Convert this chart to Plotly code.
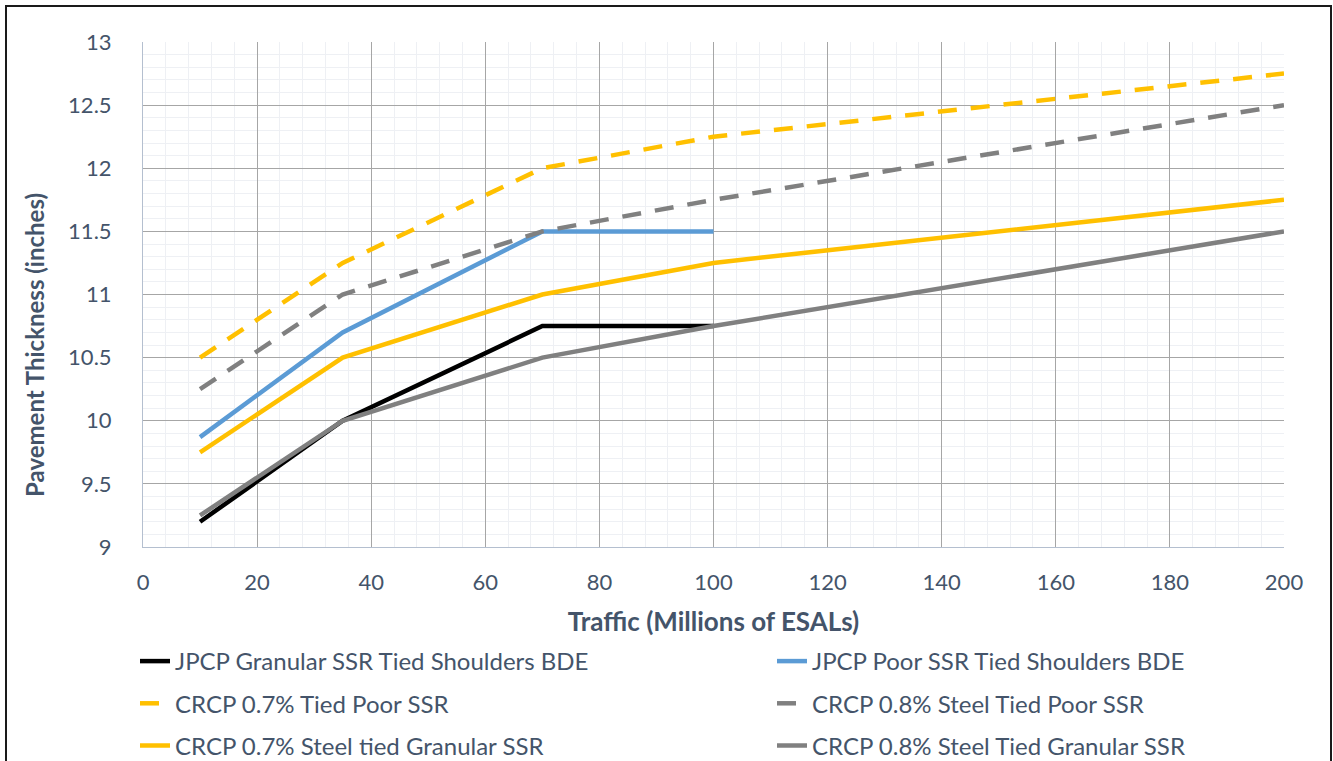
import plotly.graph_objects as go

traffic = [10, 35, 70, 100, 200]

jpcp_granular = [9.2, 10.0, 10.75, 10.75]
jpcp_poor = [9.87, 10.7, 11.5, 11.5]
crcp07_poor = [10.5, 11.25, 12.0, 12.25, 12.75]
crcp08_poor = [10.25, 11.0, 11.5, 11.75, 12.5]
crcp07_granular = [9.75, 10.5, 11.0, 11.25, 11.75]
crcp08_granular = [9.25, 10.0, 10.5, 10.75, 11.5]

names = ['JPCP Granular SSR Tied Shoulders BDE', 'JPCP Poor SSR Tied Shoulders BDE',
         'CRCP 0.7% Tied Poor SSR', 'CRCP 0.8% Steel Tied Poor SSR',
         'CRCP 0.7% Steel tied Granular SSR', 'CRCP 0.8% Steel Tied Granular SSR']
series = [jpcp_granular, jpcp_poor, crcp07_poor, crcp08_poor, crcp07_granular, crcp08_granular]
colors = ['#000000', '#5B9BD5', '#FFC000', '#808080', '#FFC000', '#808080']
dashes = ['solid', 'solid', '19px,14px', '19px,14px', 'solid', 'solid']

txt = '#44546A'
fnt = 'Lato'

fig = go.Figure()
for i, (name, ys, c, d) in enumerate(zip(names, series, colors, dashes)):
    fig.add_trace(go.Scatter(x=traffic[:len(ys)], y=ys, name=name, mode='lines',
                             legend='legend' if i % 2 == 0 else 'legend2',
                             legendgroup=str(i),
                             line=dict(color=c, width=4.5, dash=d)))

pw, ph = 1333 - 143 - 49, 761 - 42 - 214

leg = dict(xref='paper', yref='paper', xanchor='left', yanchor='top', orientation='v',
           tracegroupgap=8, font=dict(family=fnt, size=24, color=txt),
           bgcolor='rgba(0,0,0,0)', y=(547 - 639) / ph)

fig.update_layout(
    width=1333, height=761,
    plot_bgcolor='white', paper_bgcolor='white',
    margin=dict(l=143, r=49, t=42, b=214, autoexpand=False),
    font=dict(family=fnt, size=22, color=txt),
    xaxis=dict(
        range=[0, 200], dtick=20, showgrid=True, gridcolor='#A6A6A6', gridwidth=1,
        showline=True, linecolor='#B4BFCF', linewidth=1, zeroline=False,
        ticks='', ticklabelstandoff=16, tickfont=dict(size=22, color=txt),
        minor=dict(dtick=4, showgrid=True, gridcolor='#EEF0F4', gridwidth=1),
        title=dict(text='<b>Traffic (Millions of ESALs)</b>', font=dict(size=26, color=txt), standoff=18),
    ),
    yaxis=dict(
        range=[9, 13], dtick=0.5, showgrid=True, gridcolor='#A6A6A6', gridwidth=1,
        showline=True, linecolor='#B4BFCF', linewidth=1, zeroline=False,
        ticks='', tickfont=dict(size=22, color=txt), ticklabelstandoff=26,
        minor=dict(dtick=0.1, showgrid=True, gridcolor='#EEF0F4', gridwidth=1),
    ),
    legend=dict(leg, x=(135 - 143) / pw),
    legend2=dict(leg, x=(772 - 143) / pw),
    showlegend=True,
)

# y axis title, centred a bit lower than the plot area as in the original
fig.add_annotation(text='<b>Pavement Thickness (inches)</b>', textangle=-90,
                   xref='paper', yref='paper', x=(34 - 143) / pw, y=(547 - 345) / ph,
                   xanchor='center', yanchor='middle',
                   showarrow=False, font=dict(family=fnt, size=24, color=txt))

# outer frame around the chart
fig.add_shape(type='rect', xref='paper', yref='paper',
              x0=(6 - 143) / pw, x1=(1331 - 143) / pw,
              y0=(547 - 780) / ph, y1=(547 - 6) / ph,
              line=dict(color='#1A1A1A', width=2), fillcolor='rgba(0,0,0,0)', layer='below')

fig.write_html('out.html', config={'displayModeBar': False},
               post_script="document.body.style.margin='0';")
